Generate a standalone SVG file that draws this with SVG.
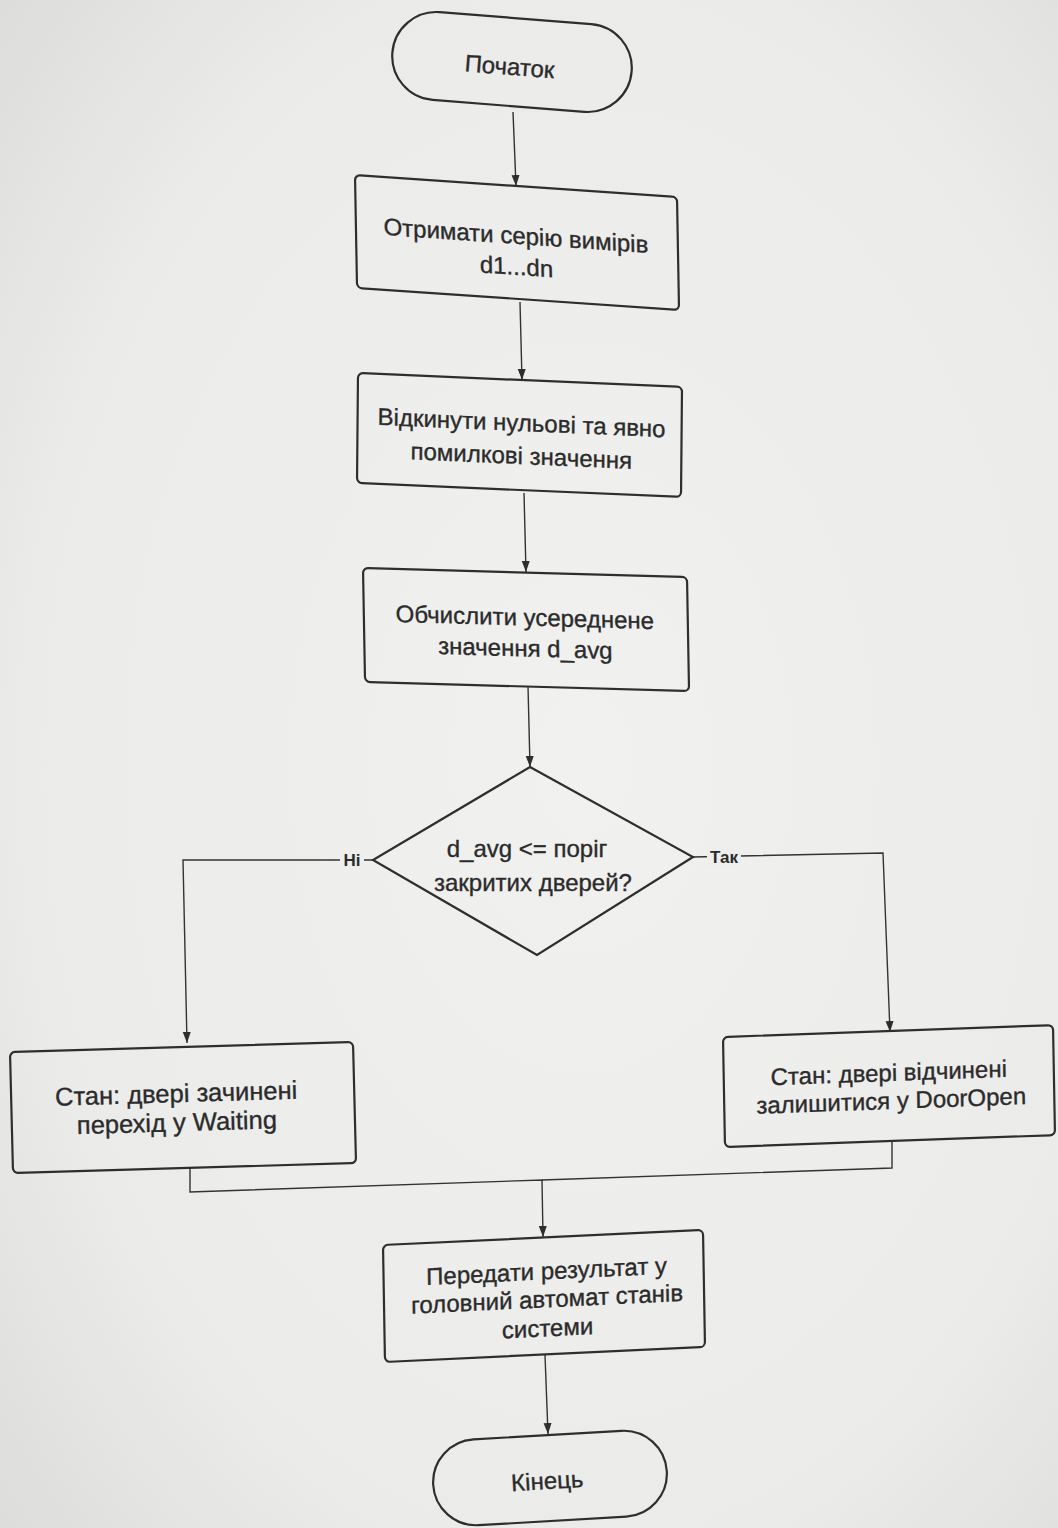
<svg xmlns="http://www.w3.org/2000/svg" width="1058" height="1528" viewBox="0 0 1058 1528">
  <defs>
    <radialGradient id="paper" cx="0.55" cy="0.5" r="0.75">
      <stop offset="0" stop-color="#f1f1f0"/>
      <stop offset="0.7" stop-color="#ebebea"/>
      <stop offset="1" stop-color="#dcdcdb"/>
    </radialGradient>
    <marker id="arrow" markerWidth="12" markerHeight="12" refX="11" refY="6" orient="auto" markerUnits="userSpaceOnUse">
      <path d="M0,2 L11,6 L0,10 Z" fill="#2e2e2e"/>
    </marker>
    <style>
      .shape { fill: none; stroke: #2e2e2e; stroke-width: 2.2; }
      .lbl { font-family: "Liberation Sans", Arial, sans-serif; font-size: 24px; fill: #2b2b2b; stroke: #2b2b2b; stroke-width: 0.35; text-anchor: middle; }
      .big { font-size: 25.5px; }
      .edge { fill: none; stroke: #333333; stroke-width: 1.4; }
      .elbl { font-family: "Liberation Sans", Arial, sans-serif; font-size: 17px; font-weight: bold; fill: #2b2b2b; text-anchor: middle; }
      .elbg { fill: #eeeeed; }
    </style>
  </defs>

  <rect x="0" y="0" width="1058" height="1528" fill="url(#paper)"/>

  <!-- connectors -->
  <g id="connectors">
    <line class="edge" x1="513" y1="112" x2="516" y2="186" marker-end="url(#arrow)"/>
    <line class="edge" x1="520" y1="302" x2="522" y2="380" marker-end="url(#arrow)"/>
    <line class="edge" x1="524" y1="493" x2="526" y2="572" marker-end="url(#arrow)"/>
    <line class="edge" x1="528" y1="686" x2="530" y2="767" marker-end="url(#arrow)"/>
    <!-- no branch -->
    <polyline class="edge" points="373,860 183,860 187,1043" marker-end="url(#arrow)"/>
    <!-- yes branch -->
    <polyline class="edge" points="693,857 883,853 890,1032" marker-end="url(#arrow)"/>
    <!-- merge into the result step -->
    <polyline class="edge" points="190,1168 190,1192 542,1180 543,1237" marker-end="url(#arrow)"/>
    <polyline class="edge" points="892,1142 892,1168 542,1180"/>
    <line class="edge" x1="545" y1="1355" x2="548" y2="1434" marker-end="url(#arrow)"/>
    <!-- branch labels -->
    <rect class="elbg" x="340" y="850" width="24" height="20"/>
    <text class="elbl" x="352" y="866">Ні</text>
    <rect class="elbg" x="707" y="847" width="34" height="20"/>
    <text class="elbl" x="724" y="863">Так</text>
  </g>

  <g id="start" transform="translate(512,62) rotate(4.5)">
    <rect class="shape" x="-120" y="-44" width="240" height="88" rx="44"/>
    <text class="lbl" x="-2" y="13">Початок</text>
  </g>

  <g id="get-series" transform="matrix(1,0.068,0.018,1,355,175)">
    <rect class="shape" x="0" y="0" width="322" height="113" rx="5"/>
    <text class="lbl" x="160" y="58">Отримати серію вимірів</text>
    <text class="lbl" x="160" y="89">d1...dn</text>
  </g>

  <g id="drop-invalid" transform="matrix(1,0.043,-0.009,1,358,373)">
    <rect class="shape" x="0" y="0" width="324" height="110" rx="5"/>
    <text class="lbl" x="164" y="51">Відкинути нульові та явно</text>
    <text class="lbl" x="164" y="84">помилкові значення</text>
  </g>

  <g id="average" transform="matrix(1,0.028,0.018,1,363,568)">
    <rect class="shape" x="0" y="0" width="324" height="114" rx="5"/>
    <text class="lbl" x="161" y="53">Обчислити усереднене</text>
    <text class="lbl" x="161" y="84">значення d_avg</text>
  </g>

  <g id="threshold">
    <polygon class="shape" points="530,767 693,857 537,955 373,860"/>
    <text class="lbl" x="527" y="857">d_avg &lt;= поріг</text>
    <text class="lbl" x="533" y="891">закритих дверей?</text>
  </g>

  <g id="closed" transform="matrix(1,-0.029,0.025,1,10,1052)">
    <rect class="shape" x="0" y="0" width="343" height="121" rx="5"/>
    <text class="lbl big" x="165" y="55">Стан: двері зачинені</text>
    <text class="lbl big" x="165" y="84">перехід у Waiting</text>
  </g>

  <g id="open" transform="matrix(1,-0.036,0.018,1,723,1037)">
    <rect class="shape" x="0" y="0" width="330" height="110" rx="5"/>
    <text class="lbl" x="165" y="50">Стан: двері відчинені</text>
    <text class="lbl" x="167" y="78">залишитися у DoorOpen</text>
  </g>

  <g id="report" transform="matrix(1,-0.047,0.017,1,383,1245)">
    <rect class="shape" x="0" y="0" width="320" height="117" rx="5"/>
    <text class="lbl" x="163" y="42">Передати результат у</text>
    <text class="lbl" x="163" y="70">головний автомат станів</text>
    <text class="lbl" x="163" y="99">системи</text>
  </g>

  <g id="end" transform="translate(550,1478) rotate(-3.3)">
    <rect class="shape" x="-117" y="-43" width="234" height="86" rx="43"/>
    <text class="lbl" x="-3" y="11">Кінець</text>
  </g>
</svg>
